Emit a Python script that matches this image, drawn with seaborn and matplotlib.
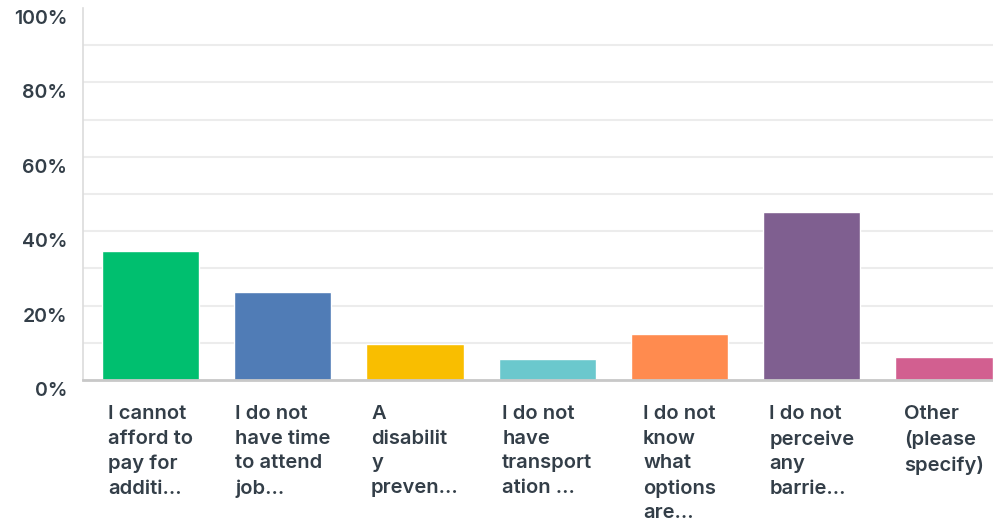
import numpy as np
import pandas as pd
import matplotlib
matplotlib.use("Agg")
import matplotlib.pyplot as plt
import matplotlib.transforms as mtransforms
import seaborn as sns

# Survey answers (wrapped as shown on the axis) and share of respondents in %
categories = [
    "I cannot\nafford to\npay for\nadditi...",
    "I do not\nhave time\nto attend\njob...",
    "A\ndisabilit\ny\npreven...",
    "I do not\nhave\ntransport\nation ...",
    "I do not\nknow\nwhat\noptions\nare...",
    "I do not\nperceive\nany\nbarrie...",
    "Other\n(please\nspecify)",
]
percentages = [34.7, 23.7, 9.7, 5.6, 12.4, 45.2, 6.2]
colors = ["#00bf6f", "#507cb6", "#f9be00", "#6bc8cd", "#ff8b4f", "#7f5f90", "#d25f90"]
y_tick_values = [0, 20, 40, 60, 80, 100]
y_tick_labels = ["0%", "20%", "40%", "60%", "80%", "100%"]

sns.set_theme(style="white")
plt.rcParams["font.family"] = ["Inter", "DejaVu Sans"]
text_color = "#333e48"

df = pd.DataFrame({"answer": categories, "pct": percentages})

fig = plt.figure(figsize=(9.93, 5.27), dpi=100)
ax = fig.add_axes([83 / 993, (527 - 380) / 527, 1 - 83 / 993, (380 - 8) / 527])

sns.barplot(data=df, x="answer", y="pct", hue="answer", palette=colors,
            legend=False, width=0.735, saturation=1, ax=ax)

ax.set_ylim(0, 100)
ax.set_xlim(-0.51, 6.37)
ax.set_yticks(y_tick_values)
ax.set_yticklabels(y_tick_labels)
ax.set_yticks(np.arange(10, 100, 20), minor=True)
ax.grid(axis="y", which="both", color="#ececec", linewidth=1.5)
ax.set_axisbelow(True)
ax.yaxis.get_major_ticks()[-1].gridline.set_visible(False)
ax.yaxis.get_major_ticks()[0].gridline.set_visible(False)

ax.tick_params(axis="y", which="both", length=0, pad=11.5, labelsize=14,
               labelcolor=text_color)
shift = mtransforms.ScaledTranslation(0, -9 / 100, fig.dpi_scale_trans)
for lbl in ax.get_yticklabels():
    lbl.set_fontweight("semibold")
    lbl.set_transform(lbl.get_transform() + shift)

ax.set_xticks([])
ax.set_xlabel("")
ax.set_ylabel("")

for side in ["top", "right"]:
    ax.spines[side].set_visible(False)
ax.spines["left"].set_color("#dcdcdc")
ax.spines["left"].set_linewidth(1.2)
ax.spines["bottom"].set_color("#c8c8c8")
ax.spines["bottom"].set_linewidth(2)

# Category labels: text block centred under each bar, lines left-aligned
trans = mtransforms.blended_transform_factory(ax.transData, ax.transAxes)
for i, label in enumerate(categories):
    ax.text(i, -0.068, label, transform=trans, ha="center", va="top",
            multialignment="left", fontsize=14.5, fontweight="semibold",
            color=text_color, linespacing=1.47, clip_on=False)

fig.savefig("out.png", dpi=100)
